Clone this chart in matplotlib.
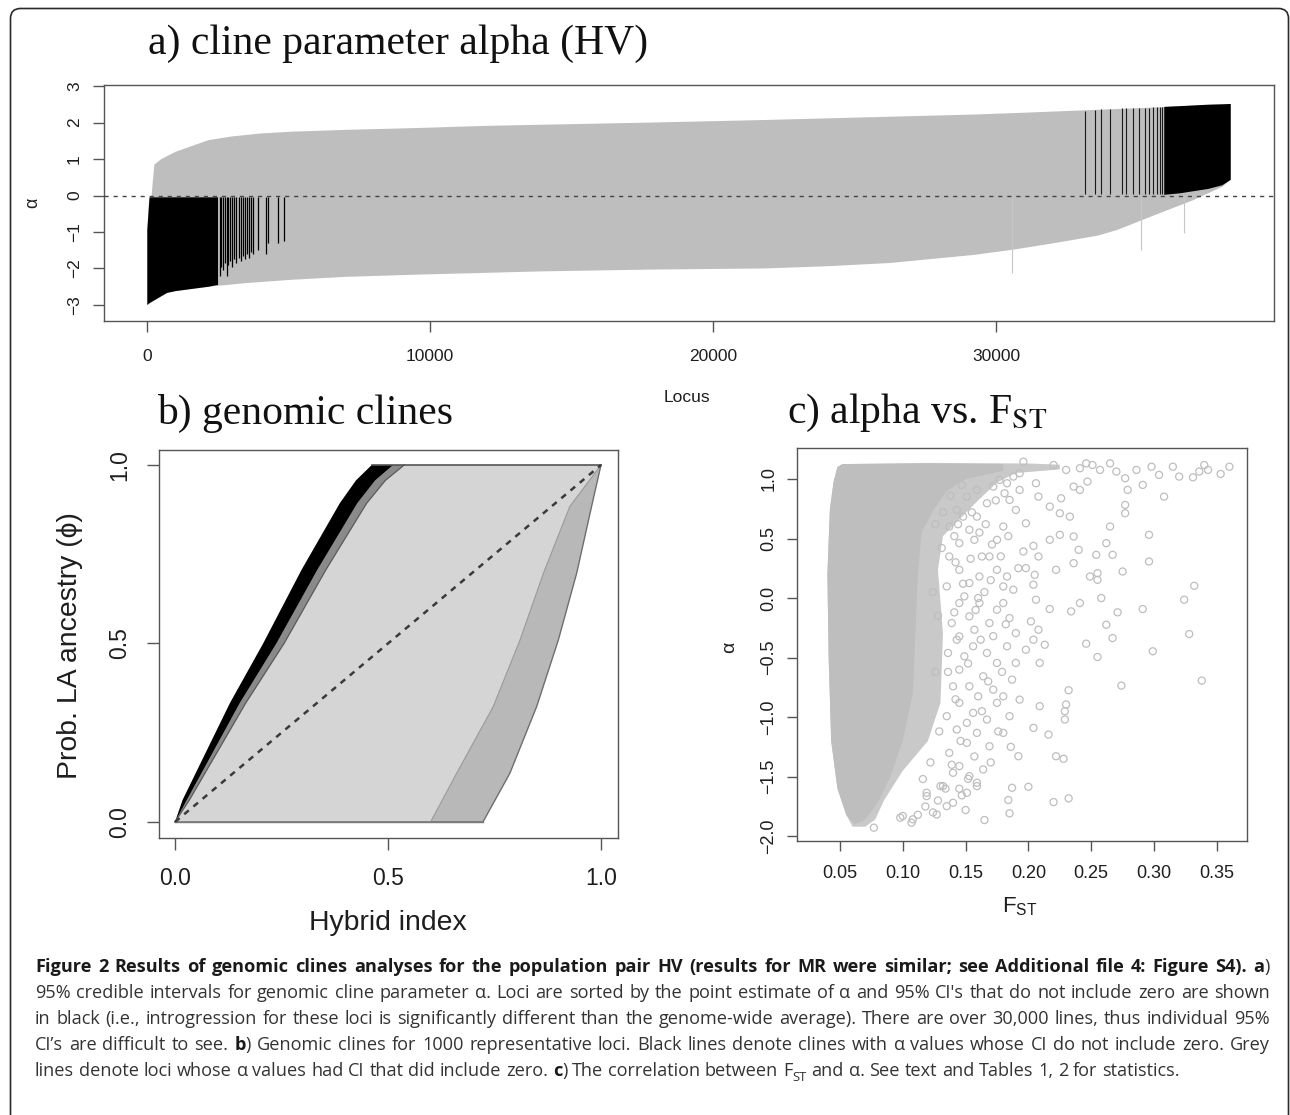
import re
import numpy as np
import matplotlib
matplotlib.use("Agg")
import matplotlib.pyplot as plt
from matplotlib.path import Path
from matplotlib.patches import PathPatch

# ---------------- data ----------------
# a) 95% CI envelope of alpha, loci sorted by point estimate
a_hi_locus = [0, 60, 150, 250, 500, 1000, 2170, 3000, 4000, 5100, 7000, 9500, 12000,
              13900, 17800, 21800, 26250, 29200, 30650, 33600, 35800, 38300]
a_hi = [-0.95, -0.1, 0.0, 0.85, 1.0, 1.2, 1.52, 1.62, 1.70, 1.75, 1.80, 1.85, 1.91,
        1.94, 2.0, 2.07, 2.16, 2.22, 2.26, 2.35, 2.42, 2.51]
a_lo_locus = [0, 300, 700, 1000, 2170, 3500, 5100, 7000, 9500, 13900, 17800, 21800,
              24000, 26250, 29200, 30650, 32100, 33600, 34300, 35800, 37000, 38000, 38300]
a_lo = [-3.0, -2.85, -2.67, -2.62, -2.5, -2.4, -2.31, -2.23, -2.17, -2.08, -2.03,
        -2.0, -1.94, -1.85, -1.63, -1.48, -1.3, -1.1, -0.94, -0.48, -0.12, 0.24, 0.43]
# significant (black) loci, low end block
sig_left_locus = [0, 80, 300, 700, 1000, 2170, 2500]
sig_left_low = [-3.0, -2.95, -2.85, -2.67, -2.62, -2.5, -2.45]
sig_left_high = [-0.95, -0.05, -0.05, -0.05, -0.05, -0.05, -0.05]
sig_left_lines = [2560, 2620, 2680, 2740, 2800, 2860, 2920, 3000, 3080, 3150, 3230,
                  3300, 3380, 3450, 3530, 3600, 3680, 3740, 3900, 4200, 4280, 4630, 4840]
sig_left_lines_low = [-2.2, -1.95, -2.05, -1.85, -2.2, -1.9, -1.8, -1.95, -1.75, -1.85,
                      -1.7, -1.8, -1.65, -1.75, -1.6, -1.7, -1.55, -1.6, -1.5, -1.6,
                      -1.3, -1.3, -1.25]
# significant loci, high end block
sig_right_locus = [35950, 36500, 37000, 37500, 38000, 38300]
sig_right_low = [0.02, 0.06, 0.12, 0.18, 0.28, 0.43]
sig_right_high = [2.43, 2.45, 2.47, 2.49, 2.50, 2.51]
sig_right_lines = [33150, 33510, 33730, 34030, 34460, 34610, 34830, 35050, 35270,
                   35420, 35560, 35710, 35800, 35870]
sig_right_lines_high = [2.33, 2.35, 2.36, 2.37, 2.39, 2.39, 2.40, 2.40, 2.41, 2.41,
                        2.42, 2.42, 2.42, 2.43]
# a few long grey intervals poking below the envelope
grey_tail_locus = [30560, 35120, 36660]
grey_tail_low = [-2.12, -1.48, -1.03]

# b) genomic clines: outer edges of the bundle (hybrid index, phi)
b_upper_h = [0.0, 0.018, 0.129, 0.207, 0.297, 0.387, 0.425, 0.462]
b_upper_phi = [0.0, 0.062, 0.333, 0.5, 0.706, 0.893, 0.957, 1.0]
b_band_inner_h = [0.0, 0.028, 0.152, 0.238, 0.334, 0.428, 0.470, 0.512]
b_band_edge_h = [0.0, 0.034, 0.166, 0.256, 0.354, 0.450, 0.494, 0.538]
b_lower_h = [0.0, 0.723, 0.786, 0.849, 0.900, 0.943, 0.978, 1.0]
b_lower_phi = [0.0, 0.0, 0.136, 0.323, 0.51, 0.697, 0.884, 1.0]
b_lowband_h = [0.60, 0.661, 0.747, 0.81, 0.865, 0.927, 1.0]
b_lowband_phi = [0.0, 0.136, 0.323, 0.51, 0.697, 0.884, 1.0]

# c) alpha vs FST: outline of the dense cloud and the sparse points
cloud_fst = [0.048, 0.052, 0.12, 0.20, 0.225, 0.225, 0.19, 0.175, 0.16, 0.145, 0.132,
             0.128, 0.132, 0.130, 0.120, 0.100, 0.085, 0.078, 0.070, 0.060, 0.055,
             0.048, 0.043, 0.041, 0.040, 0.042, 0.045]
cloud_alpha = [1.10, 1.125, 1.135, 1.13, 1.12, 1.08, 1.05, 0.97, 0.82, 0.66, 0.52,
               0.24, -0.30, -0.88, -1.2, -1.45, -1.70, -1.86, -1.92, -1.92, -1.82,
               -1.6, -1.2, -0.5, 0.2, 0.75, 0.98]
core_fst = [0.048, 0.052, 0.12, 0.18, 0.18, 0.15, 0.135, 0.125, 0.115, 0.112, 0.110,
            0.108, 0.100, 0.090, 0.080, 0.070, 0.062, 0.055, 0.048, 0.043, 0.041,
            0.040, 0.042, 0.045]
core_alpha = [1.10, 1.125, 1.13, 1.125, 1.07, 1.0, 0.90, 0.75, 0.55, 0.2, -0.3,
              -0.8, -1.2, -1.5, -1.72, -1.86, -1.90, -1.82, -1.6, -1.2, -0.5, 0.2,
              0.75, 0.98]
sparse_fst = [0.196, 0.220, 0.230, 0.241, 0.246, 0.251, 0.257, 0.265, 0.270, 0.277,
              0.286, 0.291, 0.298, 0.304, 0.315, 0.320, 0.331, 0.336, 0.340, 0.343,
              0.353, 0.360,
              0.208, 0.217, 0.225, 0.233, 0.226, 0.236, 0.241, 0.247, 0.279, 0.308,
              0.277, 0.277, 0.265, 0.296, 0.217, 0.225, 0.236, 0.240, 0.254, 0.262,
              0.267, 0.222, 0.236, 0.249, 0.255, 0.255, 0.275, 0.296, 0.332, 0.324,
              0.291, 0.271, 0.258, 0.241, 0.234, 0.217, 0.262, 0.267, 0.246, 0.255,
              0.299, 0.328, 0.274, 0.338, 0.232, 0.230, 0.229, 0.229, 0.216, 0.204,
              0.192, 0.222, 0.228, 0.187, 0.200, 0.209, 0.213, 0.204, 0.209, 0.198,
              0.208, 0.202, 0.206, 0.204, 0.205, 0.208, 0.204, 0.196, 0.192, 0.198,
              0.183, 0.188, 0.180, 0.185, 0.190, 0.183, 0.190, 0.187, 0.180, 0.185,
              0.180, 0.193, 0.198, 0.190, 0.185, 0.193, 0.206, 0.180, 0.175,
              0.184, 0.185, 0.165, 0.220, 0.232, 0.152, 0.159, 0.145, 0.147, 0.140,
              0.135, 0.127, 0.130, 0.119, 0.107, 0.098,
              0.077, 0.100, 0.108, 0.124, 0.119,
              0.145, 0.153, 0.159, 0.167, 0.172, 0.177, 0.183, 0.188, 0.193, 0.145,
              0.153, 0.161, 0.169, 0.175, 0.180, 0.145, 0.153, 0.161, 0.169, 0.175,
              0.145, 0.156, 0.167, 0.175, 0.145, 0.153, 0.164, 0.172, 0.145, 0.156,
              0.167, 0.175, 0.143, 0.151, 0.159, 0.169, 0.137, 0.145, 0.153, 0.164,
              0.132, 0.151, 0.159, 0.140, 0.137, 0.135, 0.139, 0.136, 0.140, 0.135,
              0.137, 0.143, 0.151, 0.159, 0.148, 0.157, 0.163, 0.149, 0.157, 0.149,
              0.160, 0.151,
              0.126, 0.131, 0.124, 0.128, 0.126, 0.129, 0.122, 0.116, 0.141, 0.142,
              0.141, 0.143, 0.142, 0.146, 0.148, 0.152, 0.154, 0.155, 0.157, 0.161,
              0.162, 0.163, 0.165, 0.166, 0.168, 0.170, 0.171, 0.172, 0.174, 0.176,
              0.178, 0.179, 0.181, 0.182, 0.184, 0.186, 0.138, 0.147, 0.134, 0.139,
              0.128, 0.118, 0.112, 0.132, 0.150, 0.158, 0.144, 0.136, 0.160, 0.170]
sparse_alpha = [1.145, 1.117, 1.076, 1.090, 1.131, 1.117, 1.076, 1.131, 1.062, 1.006,
                1.076, 0.950, 1.103, 1.034, 1.103, 1.020, 1.014, 1.062, 1.117, 1.076,
                1.042, 1.103,
                0.852, 0.768, 0.712, 0.684, 0.838, 0.936, 0.908, 0.978, 0.908, 0.852,
                0.782, 0.712, 0.601, 0.531, 0.489, 0.531, 0.517, 0.405, 0.363, 0.461,
                0.363, 0.237, 0.293, 0.181, 0.209, 0.153, 0.223, 0.307, 0.103, -0.014,
                -0.092, -0.120, 0.000, -0.042, -0.112, -0.092, -0.224, -0.336, -0.383,
                -0.495, -0.447, -0.302, -0.735, -0.693, -0.774, -0.894, -0.950, -1.020,
                -1.146, -1.090, -1.328, -1.328, -1.350, -1.593, -1.585, -0.908, -0.392,
                -0.350, -0.545, -0.434, -0.266, -0.196, -0.014, 0.112, 0.195, 0.349,
                0.438, 0.391, 0.251, 0.251, 0.181, 0.070, -0.042, -0.168, -0.294,
                -0.405, -0.545, -0.685, -0.825, -0.992, -1.132, -0.853, 0.628, 0.740,
                0.824, 0.908, 0.964, 0.601, 0.489,
                -1.696, -1.808, -1.864, -1.713, -1.682, -1.518, -1.579, -1.601, -1.657,
                -1.719, -1.747, -1.817, -1.579, -1.635, -1.886, -1.844,
                -1.928, -1.830, -1.858, -1.800, -1.663,
                0.461, 0.573, 0.684, 0.796, 0.936, 0.992, 0.964, 1.020, 1.048, 0.237,
                0.126, 0.181, 0.349, 0.237, 0.098, -0.042, -0.154, -0.042, -0.210,
                -0.098, -0.322, -0.405, -0.461, -0.545, -0.601, -0.741, -0.657, -0.769,
                -0.880, -0.964, -1.020, -0.880, -1.104, -1.216, -1.132, -1.244, -1.300,
                -1.411, -1.495, -1.439, -1.579, -1.635, -1.551, -1.467, 0.349, 0.098,
                -0.210, -0.461, -0.741, -0.992, 0.601, 0.740, 0.852, 0.908, 0.684,
                0.489, 0.349, 0.014, -0.266, -0.489, -0.825, -1.048,
                0.62, 0.42, 0.05, -0.15, -0.62, -1.12, -1.38, -1.52, 0.52, 0.30,
                -0.12, -0.35, -0.85, -1.20, 0.12, -0.55, 0.33, 0.72, -1.33, 0.55,
                -0.35, -0.95, 0.05, 0.62, -0.70, -1.38, 0.45, -0.32, 0.82, -1.12,
                0.35, -0.62, 0.88, -0.22, 0.52, -1.25, 0.86, 0.95, -1.60, -1.40,
                -1.70, -1.75, -1.82, 0.72, -1.78, -0.10, 0.62, -0.62, 0.00, 0.15]

a_xticks = [0, 10000, 20000, 30000]
a_yticks = [-3, -2, -1, 0, 1, 2, 3]
b_ticks = [0.0, 0.5, 1.0]
c_xticks = [0.05, 0.10, 0.15, 0.20, 0.25, 0.30, 0.35]
c_yticks = [-2.0, -1.5, -1.0, -0.5, 0.0, 0.5, 1.0]

caption_lines = [
    "*Figure 2 Results of genomic clines analyses for the population pair HV (results for MR were similar; see Additional file 4: Figure S4). a*)",
    "95% credible intervals for genomic cline parameter α. Loci are sorted by the point estimate of α and 95% CI's that do not include zero are shown",
    "in black (i.e., introgression for these loci is significantly different than the genome-wide average). There are over 30,000 lines, thus individual 95%",
    "CI’s are difficult to see. *b*) Genomic clines for 1000 representative loci. Black lines denote clines with α values whose CI do not include zero. Grey",
    "lines denote loci whose α values had CI that did include zero. *c*) The correlation between F_{ST} and α. See text and Tables 1, 2 for statistics.",
]

# ---------------- figure ----------------
W, H = 1290, 1115
SANS = ["Liberation Sans", "DejaVu Sans"]
SERIF = ["Liberation Serif", "DejaVu Serif"]
plt.rcParams["font.family"] = SANS
plt.rcParams["mathtext.fontset"] = "custom"
plt.rcParams["mathtext.rm"] = "Liberation Sans"
plt.rcParams["mathtext.it"] = "Liberation Sans:italic"
plt.rcParams["mathtext.bf"] = "Liberation Sans:bold"

fig = plt.figure(figsize=(W / 100, H / 100), dpi=100)


def fx(x):
    return x / W


def fy(y):
    return 1 - y / H


def add_axes_px(left, top, right, bottom):
    return fig.add_axes([fx(left), fy(bottom), (right - left) / W, (bottom - top) / H])


FRAME = "#555555"
GREY = "#bebebe"


def style_axes(ax, lab_size, xpad, ypad, tlen):
    for s in ax.spines.values():
        s.set_color(FRAME)
        s.set_linewidth(1.0)
    ax.tick_params(axis="both", length=tlen, width=1.0, color=FRAME,
                   labelsize=lab_size, labelcolor="#1e1e1e")
    ax.tick_params(axis="x", pad=xpad)
    ax.tick_params(axis="y", pad=ypad, labelrotation=90)
    for lab in ax.get_yticklabels():
        lab.set_va("center")
        lab.set_ha("right")


# ---- panel a ----
axA = add_axes_px(104, 85, 1274, 321)
axA.fill(np.r_[a_hi_locus, a_lo_locus[::-1]], np.r_[a_hi, a_lo[::-1]],
         color=GREY, lw=0, zorder=1)
axA.vlines(grey_tail_locus, grey_tail_low, 0.0, color="#c6c6c6", lw=0.8, zorder=1)
axA.fill(np.r_[sig_left_locus, sig_left_locus[::-1]],
         np.r_[sig_left_high, sig_left_low[::-1]], color="black", lw=0, zorder=2)
axA.vlines(sig_left_lines, sig_left_lines_low, -0.05, color="black", lw=0.9, zorder=2)
axA.fill(np.r_[sig_right_locus, sig_right_locus[::-1]],
         np.r_[sig_right_high, sig_right_low[::-1]], color="black", lw=0, zorder=2)
axA.vlines(sig_right_lines, 0.05, sig_right_lines_high, color="#1a1a1a", lw=0.8, zorder=2)
axA.axhline(0, color="#444444", lw=1.0, dashes=(3, 3.5), zorder=3)
axA.set_xlim(-1531, 39830)
axA.set_ylim(-3.44, 3.03)
axA.set_xticks(a_xticks)
axA.set_xticklabels([str(v) for v in a_xticks])
axA.set_yticks(a_yticks)
axA.set_yticklabels([str(v).replace("-", "\u2212") for v in a_yticks])
style_axes(axA, 12.5, 12, 7.8, 8)

# ---- panel b ----
axB = add_axes_px(159, 450, 618, 838)
axB.fill(np.r_[b_upper_h, b_lower_h[::-1]], np.r_[b_upper_phi, b_lower_phi[::-1]],
         color="#d5d5d5", lw=0, zorder=1)
axB.fill(np.r_[b_lowband_h, b_lower_h[:0:-1]], np.r_[b_lowband_phi, b_lower_phi[:0:-1]],
         color="#b8b8b8", lw=0, zorder=2)
axB.plot(b_lower_h, b_lower_phi, color="#6e6e6e", lw=1.0, zorder=3)
axB.plot(b_lowband_h, b_lowband_phi, color="#9a9a9a", lw=0.8, zorder=3)
axB.fill(np.r_[b_band_inner_h, b_band_edge_h[::-1]], np.r_[b_upper_phi, b_upper_phi[::-1]],
         color="#8a8a8a", lw=0, zorder=3)
axB.fill(np.r_[b_upper_h, b_band_inner_h[::-1]], np.r_[b_upper_phi, b_upper_phi[::-1]],
         color="black", lw=0, zorder=3)
axB.plot(b_band_edge_h, b_upper_phi, color="#5a5a5a", lw=0.9, zorder=3)
axB.plot([b_upper_h[-1], b_lower_h[-1]], [1.0, 1.0], color="#555555", lw=1.2, zorder=3)
axB.plot([b_lower_h[0], b_lower_h[1]], [0.0, 0.0], color="#7a7a7a", lw=1.0, zorder=3)
axB.plot([0, 1], [0, 1], color="#3a3a3a", lw=1.8, dashes=(2.4, 2.4), zorder=4)
axB.set_xlim(-0.0376, 1.04)
axB.set_ylim(-0.045, 1.042)
axB.set_xticks(b_ticks)
axB.set_xticklabels(["%.1f" % v for v in b_ticks])
axB.set_yticks(b_ticks)
axB.set_yticklabels(["%.1f" % v for v in b_ticks])
style_axes(axB, 16.5, 12, 11.5, 8.6)

# ---- panel c ----
axC = add_axes_px(797, 448, 1247, 841)
axC.fill(cloud_fst, cloud_alpha, color="#c9c9c9", lw=0, zorder=1)
axC.fill(core_fst, core_alpha, color=GREY, lw=0, zorder=2)
axC.scatter(sparse_fst, sparse_alpha, s=26, facecolors="none", edgecolors=GREY,
            linewidths=0.9, zorder=3)
axC.set_xlim(0.0158, 0.374)
axC.set_ylim(-2.04, 1.26)
axC.set_xticks(c_xticks)
axC.set_xticklabels(["%.2f" % v for v in c_xticks])
axC.set_yticks(c_yticks)
axC.set_yticklabels([("%.1f" % v).replace("-", "\u2212") for v in c_yticks])
style_axes(axC, 13, 10, 7, 7.2)

# ---- titles and axis labels ----
fig.text(fx(148), fy(54), "a) cline parameter alpha (HV)", family=SERIF, fontsize=30,
         ha="left", va="baseline", color="#111111")
fig.text(fx(157), fy(424), "b) genomic clines", family=SERIF, fontsize=30,
         ha="left", va="baseline", color="#111111")
fig.text(fx(787), fy(423), r"c) alpha vs. F$_{\mathrm{ST}}$", family=SERIF, fontsize=30,
         ha="left", va="baseline", color="#111111", math_fontfamily="stix")
fig.text(fx(687), fy(398), "Locus", fontsize=12.5, ha="center", va="center", color="#1e1e1e")
fig.text(fx(33), fy(203), "α", fontsize=13, ha="center", va="center", rotation=90,
         color="#1e1e1e")
fig.text(fx(70), fy(646), "Prob. LA ancestry (ϕ)", fontsize=20.4, ha="center",
         va="center", rotation=90, color="#1e1e1e")
fig.text(fx(388), fy(923), "Hybrid index", fontsize=20.4, ha="center", va="center",
         color="#1e1e1e")
fig.text(fx(730), fy(647), "α", fontsize=14, ha="center", va="center", rotation=90,
         color="#1e1e1e")
fig.text(fx(1020), fy(912), r"F$_{\mathrm{ST}}$", fontsize=16, ha="center",
         va="baseline", color="#1e1e1e", math_fontfamily="custom")

# ---- border ----
r = 10
L, R, T, B = 10.5, 1288.5, 8.5, 1116
verts = [(L, B), (L, T + r), (L, T), (L + r, T), (R - r, T), (R, T), (R, T + r), (R, B)]
codes = [Path.MOVETO, Path.LINETO, Path.CURVE3, Path.CURVE3, Path.LINETO,
         Path.CURVE3, Path.CURVE3, Path.LINETO]
verts = [(fx(x), fy(y)) for x, y in verts]
fig.add_artist(PathPatch(Path(verts, codes), transform=fig.transFigure, fill=False,
                         edgecolor="#2a2a2a", lw=1.2))

# ---- caption (justified) ----
CAP_FONT = ["Open Sans", "DejaVu Sans"]
renderer = fig.canvas.get_renderer()
pat = re.compile(r"\*([^*]+)\*|_\{([^}]+)\}|([^*_]+)")


def parse(line):
    segs = []
    for m in pat.finditer(line):
        if m.group(1):
            segs.append((m.group(1), "b"))
        elif m.group(2):
            segs.append((m.group(2), "sub"))
        else:
            segs.append((m.group(3), "n"))
    words = [[]]
    for text, st in segs:
        parts = text.split(" ")
        for i, p in enumerate(parts):
            if i > 0:
                words.append([])
            if p:
                words[-1].append((p, st))
    return [w for w in words if w]


def props(st, fs):
    if st == "b":
        return dict(fontsize=fs, weight="bold", color="#1a1a1a")
    if st == "sub":
        return dict(fontsize=fs * 0.72, weight="normal", color="#333333")
    return dict(fontsize=fs, weight="normal", color="#333333")


def width_of(s, **kw):
    t = fig.text(0, 0, s, family=CAP_FONT, **kw)
    w = t.get_window_extent(renderer=renderer).width
    t.remove()
    return w


def space_of(fs):
    return width_of("x x", fontsize=fs) - width_of("xx", fontsize=fs)


def natural(words, fs):
    tot = sum(width_of(s, **props(st, fs)) for w in words for s, st in w)
    return tot + space_of(fs) * (len(words) - 1)


cap_left, cap_right = 35, 1270
target = cap_right - cap_left
parsed = [parse(l) for l in caption_lines]

fs0 = 12.0
mx = max(natural(p, fs0) for p in parsed[1:4])
fs = fs0 * target * 0.985 / mx
line_fs = []
for li, p in enumerate(parsed):
    f = fs
    if li == 0:
        n1 = natural(p, fs)
        if n1 > target * 0.995:
            f = fs * target * 0.995 / n1
    line_fs.append(f)

baseline0, lead = 972, 26
for li, words in enumerate(parsed):
    f = line_fs[li]
    y = baseline0 + li * lead
    widths = [[width_of(s, **props(st, f)) for s, st in w] for w in words]
    wsum = sum(sum(ws) for ws in widths)
    if li < len(parsed) - 1:
        gap = (target - wsum) / (len(words) - 1)
    else:
        gap = space_of(f)
    x = cap_left
    for w, ws in zip(words, widths):
        for (s, st), sw in zip(w, ws):
            dy = f * 0.28 * 100 / 72 if st == "sub" else 0
            fig.text(fx(x), fy(y + dy), s, family=CAP_FONT, ha="left", va="baseline",
                     **props(st, f))
            x += sw
        x += gap

fig.savefig("out.png", dpi=100)
